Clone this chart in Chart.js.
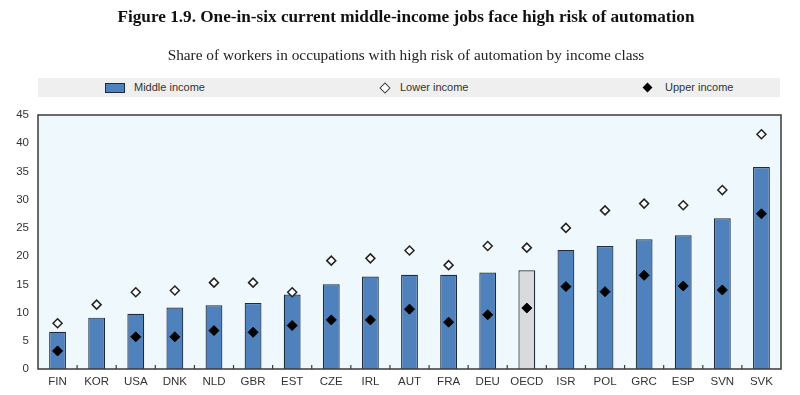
<!DOCTYPE html>
<html>
<head>
<meta charset="utf-8">
<script src="https://cdn.jsdelivr.net/npm/chart.js@4.4.1/dist/chart.umd.min.js"></script>
<style>
  html, body { margin: 0; padding: 0; background: #fff; }
  #wrap { position: relative; width: 800px; height: 395px; overflow: hidden; }
  #chart { position: absolute; left: 0; top: 0; }
  .title { position: absolute; left: 0; width: 812px; text-align: center; font-family: 'Liberation Serif', 'Times New Roman', serif; color: #111; white-space: nowrap; }
  #t1 { top: 7px; font-size: 17.2px; font-weight: bold; }
  #t2 { top: 46px; font-size: 15.3px; color: #222; }
  #legend { position: absolute; left: 38px; top: 78px; width: 742px; height: 19px; background: #efefef; font-family: 'Liberation Sans', Arial, sans-serif; font-size: 11px; color: #333; }
  #legend span { position: absolute; top: 2px; line-height: 15px; }
  #legend i { position: absolute; display: block; }
  .sw-bar { left: 67px; top: 5px; width: 18px; height: 8px; background: #4f81bd; border: 1px solid #1c2b3f; }
  .sw-low { left: 343px; top: 6px; width: 6px; height: 6px; background: #fff; border: 1px solid #444; transform: rotate(45deg); }
  .sw-up { left: 606px; top: 6px; width: 7px; height: 7px; background: #000; transform: rotate(45deg); }
</style>
</head>
<body>
<div id="wrap">
  <canvas id="chart" width="800" height="395"></canvas>
  <div class="title" id="t1">Figure 1.9. One-in-six current middle-income jobs face high risk of automation</div>
  <div class="title" id="t2">Share of workers in occupations with high risk of automation by income class</div>
  <div id="legend">
    <i class="sw-bar"></i><span style="left:96px">Middle income</span>
    <i class="sw-low"></i><span style="left:362px">Lower income</span>
    <i class="sw-up"></i><span style="left:627px">Upper income</span>
  </div>
</div>
<script>
// values, % of workers
let countries = ["FIN", "KOR", "USA", "DNK", "NLD", "GBR", "EST", "CZE", "IRL", "AUT",
                 "FRA", "DEU", "OECD", "ISR", "POL", "GRC", "ESP", "SVN", "SVK"];
let middleIncome = [6.6, 9.1, 9.8, 10.9, 11.3, 11.7, 13.2, 15.0, 16.4, 16.7,
                    16.7, 17.1, 17.5, 21.1, 21.8, 23.0, 23.7, 26.7, 35.8];
let lowerIncome = [8.1, 11.4, 13.6, 13.9, 15.3, 15.3, 13.6, 19.2, 19.6, 21.0,
                   18.4, 21.8, 21.5, 25.0, 28.1, 29.3, 29.0, 31.7, 41.6];
let upperIncome = [3.2, null, 5.7, 5.7, 6.8, 6.5, 7.7, 8.7, 8.7, 10.6,
                   8.3, 9.6, 10.8, 14.6, 13.7, 16.6, 14.7, 14.0, 27.5];
let yTicks = [0, 5, 10, 15, 20, 25, 30, 35, 40, 45];

const axisFont = { family: "'Liberation Sans', Arial, sans-serif", size: 11.5 };

// plot background, frame and the little inward ticks between categories
const frame = {
    id: 'frame',
    beforeDraw(chart) {
        const { ctx, chartArea: a } = chart;
        ctx.save();
        ctx.fillStyle = '#eef8fd';
        ctx.fillRect(a.left, a.top, a.right - a.left, a.bottom - a.top);
        ctx.restore();
    },
    afterDraw(chart) {
        const { ctx, chartArea: a } = chart;
        const x = chart.scales.x;
        ctx.save();
        ctx.strokeStyle = '#3a3a3a';
        ctx.lineWidth = 1.5;
        ctx.strokeRect(a.left, a.top, a.right - a.left, a.bottom - a.top);
        ctx.lineWidth = 1.2;
        ctx.beginPath();
        for (let i = 1; i < countries.length; i++) {
            const px = (x.getPixelForValue(i - 1) + x.getPixelForValue(i)) / 2;
            ctx.moveTo(px, a.bottom);
            ctx.lineTo(px, a.bottom - 4);
        }
        ctx.stroke();
        ctx.restore();
    }
};

new Chart(
    document.getElementById('chart'),
    {
        type: 'bar',
        data: {
            labels: countries,
            datasets: [
                {
                    label: 'Lower income',
                    type: 'line',
                    data: lowerIncome,
                    showLine: false,
                    pointStyle: 'rectRot',
                    pointRadius: 4.5,
                    pointBackgroundColor: '#ffffff',
                    pointBorderColor: '#222222',
                    pointBorderWidth: 1.5,
                    order: 1,
                },
                {
                    label: 'Upper income',
                    type: 'line',
                    data: upperIncome,
                    showLine: false,
                    pointStyle: 'rectRot',
                    pointRadius: 5,
                    pointBackgroundColor: '#000000',
                    pointBorderColor: '#000000',
                    pointBorderWidth: 1,
                    order: 2,
                },
                {
                    label: 'Middle income',
                    data: middleIncome,
                    backgroundColor: countries.map(c => c === 'OECD' ? '#dadada' : '#4f81bd'),
                    borderColor: '#1c2b3f',
                    borderWidth: 1.2,
                    categoryPercentage: 1,
                    barPercentage: 0.43,
                    order: 3,
                },
            ]
        },
        options: {
            responsive: false,
            animation: false,
            layout: { padding: { top: 115, right: 19, bottom: 0, left: 0 } },
            plugins: {
                legend: { display: false },
                tooltip: { enabled: false },
            },
            scales: {
                x: {
                    grid: { display: false, drawTicks: false },
                    border: { display: false },
                    ticks: { font: axisFont, color: '#333', padding: 6, maxRotation: 0, autoSkip: false },
                    afterFit(scale) { scale.height = 26; },
                },
                y: {
                    min: 0,
                    max: 45,
                    grid: { display: false, drawTicks: false },
                    border: { display: false },
                    afterBuildTicks(scale) { scale.ticks = yTicks.map(v => ({ value: v })); },
                    ticks: { font: axisFont, color: '#333', padding: 9 },
                    afterFit(scale) { scale.width = 38; },
                }
            },
        },
        plugins: [frame],
    }
);
</script>
</body>
</html>
